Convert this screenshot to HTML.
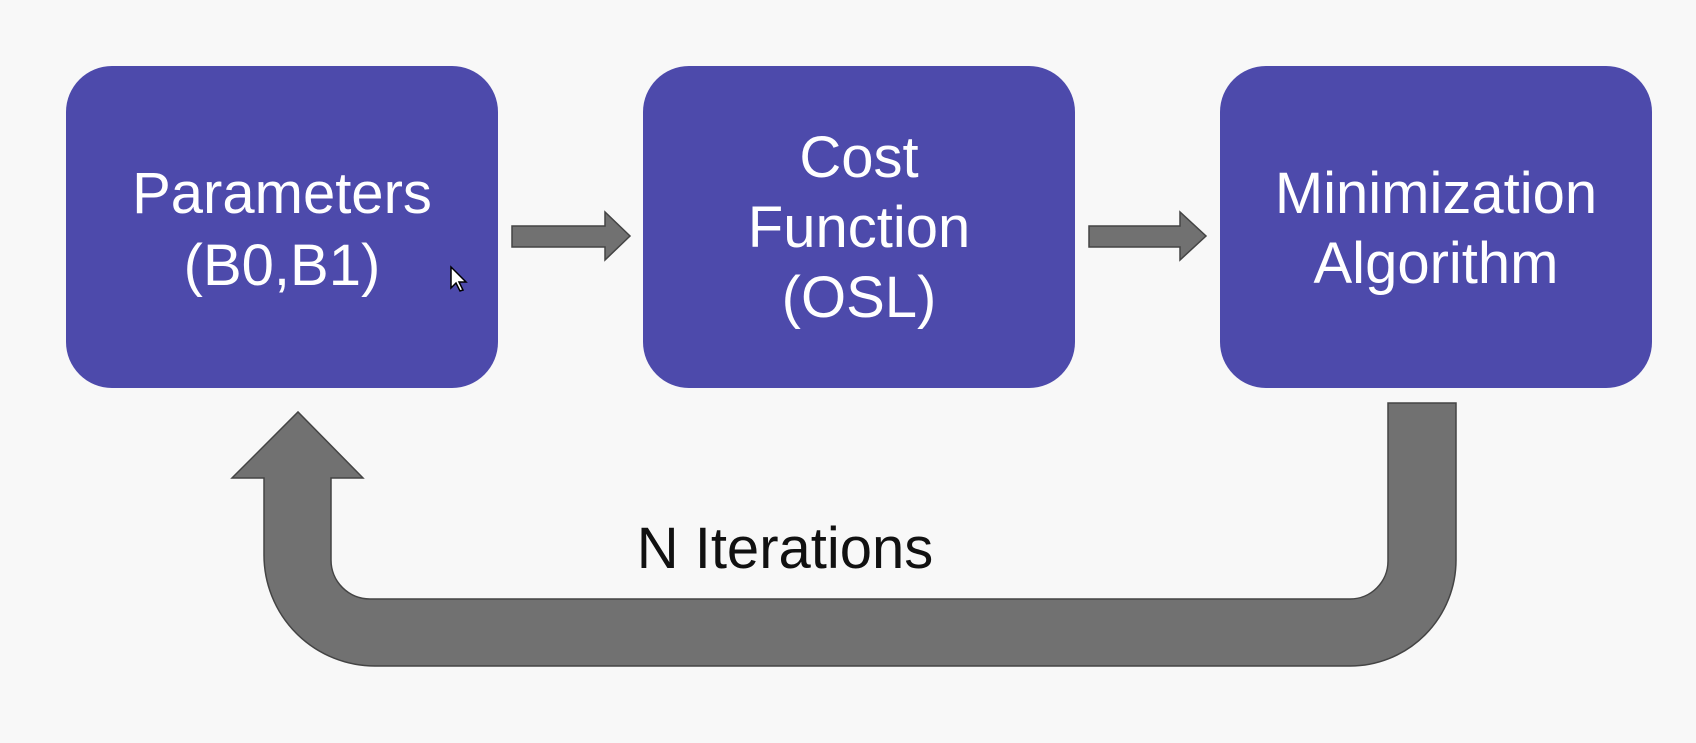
<!DOCTYPE html>
<html><head><style>
body{margin:0;width:1696px;height:738px;background:#f8f8f8;overflow:hidden;font-family:"Liberation Sans",sans-serif}
</style></head><body>
<svg width="1696" height="738" xmlns="http://www.w3.org/2000/svg">
<rect x="0" y="0" width="1696" height="738" fill="#f8f8f8"/>
<g fill="#4d4aab">
<rect x="66" y="66" width="432" height="322" rx="46"/>
<rect x="643" y="66" width="432" height="322" rx="46"/>
<rect x="1220" y="66" width="432" height="322" rx="46"/>
</g>
<g fill="#717171" stroke="#444" stroke-width="1.5">
<polygon points="512,226 605,226 605,212 630,236 605,260 605,247 512,247"/>
<polygon points="1089,226 1180,226 1180,212 1206,236 1180,260 1180,247 1089,247"/>
<path d="M1388,403 L1456,403 L1456,560 A106,106 0 0 1 1350,666 L375,666 A111,111 0 0 1 264,555 L264,478 L232,478 L298,412 L363,478 L331,478 L331,560 A39,39 0 0 0 370,599 L1350,599 A38,38 0 0 0 1388,561 Z"/>
</g>
<g fill="#fff" font-size="58" text-anchor="middle" font-family="Liberation Sans, sans-serif">
<text x="282" y="213">Parameters</text>
<text x="282" y="285">(B0,B1)</text>
<text x="859" y="177">Cost</text>
<text x="859" y="247">Function</text>
<text x="859" y="317">(OSL)</text>
<text x="1436" y="213">Minimization</text>
<text x="1436" y="283">Algorithm</text>
</g>
<text x="785" y="568" font-size="58" text-anchor="middle" fill="#111" font-family="Liberation Sans, sans-serif">N Iterations</text>
<polygon points="451,267 451,288 456,283 460,291 463,290 459,282 466,282" fill="#fff" stroke="#000" stroke-width="1.5"/>
</svg>
</body></html>
